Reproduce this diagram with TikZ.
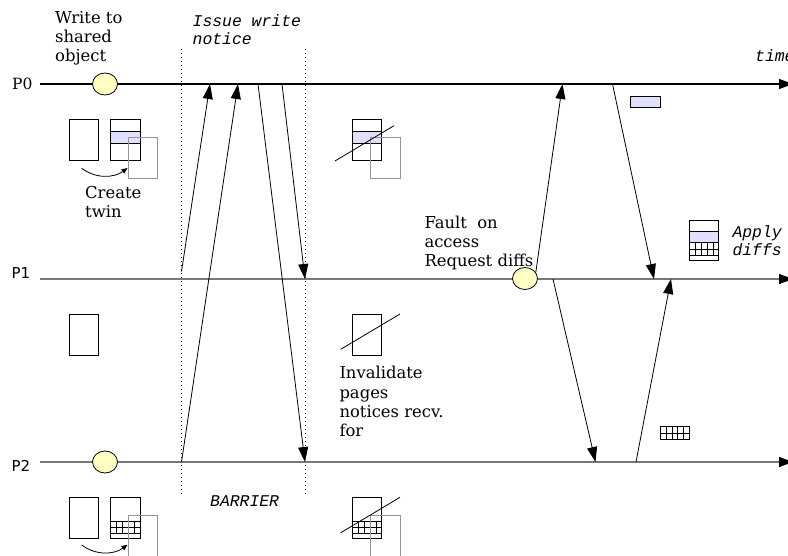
\documentclass[tikz,border=0pt]{standalone}
\usepackage{fontspec}
\setmainfont{DejaVu Serif}
\setsansfont{DejaVu Sans}
\setmonofont{Liberation Mono}
\usetikzlibrary{arrows.meta,shapes.geometric}
\definecolor{evtfill}{RGB}{255,255,194}
\definecolor{diffband}{RGB}{224,224,252}
\definecolor{twingray}{RGB}{150,150,150}
\definecolor{linegray}{RGB}{120,120,120}
\begin{document}
\begin{tikzpicture}[x=1pt,y=-1pt,
  axis/.style={line width=1.1pt,-{Triangle[length=14pt,width=10pt,color=black]}},
  msg/.style={line width=0.8pt,-{Triangle[length=15pt,width=10pt]}},
  barrier/.style={line width=0.8pt,dash pattern=on 1pt off 3pt},
  pg/.style={draw,line width=0.8pt},
  twin/.style={draw=twingray,line width=0.8pt},
  band/.style={draw,fill=diffband,line width=0.8pt},
  evt/.style={ellipse,draw,fill=evtfill,line width=0.8pt,minimum width=25pt,minimum height=22pt,inner sep=0pt},
  lbl/.style={font=\fontsize{16.4}{19.3}\selectfont,align=left,anchor=base west,inner sep=0pt},
  note/.style={font=\fontsize{16.4}{17.7}\selectfont\ttfamily\itshape,align=left,anchor=base west,inner sep=0pt},
  proclbl/.style={anchor=base west,inner sep=0pt},
  copyarrow/.style={line width=0.8pt,-{Triangle[length=6pt,width=5pt]}},
  pagebox/.pic={\draw[pg] (0,0) rectangle (29.5,41.4);},
  diffgrid/.pic={
    \draw[pg] (0,0) rectangle (29.5,12.2);
    \draw[line width=0.6pt] (0,6.1) -- (29.5,6.1);
    \foreach \gx in {5.9,11.8,17.7,23.6} \draw[line width=0.6pt] (\gx,0) -- (\gx,12.2);
  }
]
\useasboundingbox (0,0) rectangle (788,555);
\clip (0,0) rectangle (788,555);

% barrier boundaries
\draw[barrier] (181.5,49) -- (181.5,497);
\draw[barrier] (305,49) -- (305,497);

% process time lines
\coordinate (P0a) at (40,84);   \coordinate (P0b) at (793,84);
\coordinate (P1a) at (40,279);  \coordinate (P1b) at (793,279);
\coordinate (P2a) at (40,462);  \coordinate (P2b) at (793,462);
\draw[axis,draw=black] (P0a) -- (P0b);
\draw[axis,draw=linegray] (P1a) -- (P1b);
\draw[axis,draw=linegray] (P2a) -- (P2b);

\node[proclbl,font=\fontsize{15.5}{18}\selectfont] (l0) at (12,89) {P0};
\node[proclbl,font=\fontsize{15}{18}\selectfont\sffamily] (l1) at (11.5,278.3) {P1};
\node[proclbl,font=\fontsize{15}{18}\selectfont\sffamily] (l2) at (11.5,471.7) {P2};

% message end points
\coordinate (m1s) at (181.5,271.5); \coordinate (m1e) at (210,84);
\coordinate (m2s) at (181.5,462);   \coordinate (m2e) at (238,84);
\coordinate (m3s) at (258,84);      \coordinate (m3e) at (305,462);
\coordinate (m4s) at (282,84);      \coordinate (m4e) at (305,279);
\coordinate (m6s) at (612.5,84);    \coordinate (m6e) at (654,279);
\coordinate (m7s) at (553,279);     \coordinate (m7e) at (595.5,462);
\coordinate (m8s) at (636,462);     \coordinate (m8e) at (671,279);
\coordinate (m5e) at (562.5,84);

\draw[msg] (m1s) -- (m1e);
\draw[msg] (m2s) -- (m2e);
\draw[msg] (m3s) -- (m3e);
\draw[msg] (m4s) -- (m4e);
\draw[msg] (m6s) -- (m6e);
\draw[msg] (m7s) -- (m7e);
\draw[msg] (m8s) -- (m8e);

% shared-object events
\node[evt] (e0) at (105,84) {};
\node[evt] (e1) at (525,278.5) {};
\node[evt] (e2) at (105,462) {};
\draw[msg] (e1.30) -- (m5e);

% P0: page and its twin
\pic at (69,119.3) {pagebox};
\pic at (110.7,119.3) {pagebox};
\draw[band] (110.7,131.7) rectangle (140.2,143.3);
\draw[twin] (128.3,137.3) rectangle (157.7,178.3);
\coordinate (c0s) at (81.7,168.3); \coordinate (c0e) at (127.5,168);
\draw[copyarrow] (c0s) .. controls (96,179) and (114,178) .. (c0e);

% P0: invalidated copy
\pic at (352.3,119.3) {pagebox};
\draw[band] (352.3,131.2) rectangle (381.8,143.3);
\draw[twin] (370,137.3) rectangle (400,178.7);
\draw[line width=0.8pt] (335,161) -- (394,125.7);

% P0: diff
\draw[band] (630.7,96) rectangle (660.3,107.7);

% P1 pages
\pic at (69,314) {pagebox};
\pic at (352.3,314) {pagebox};
\draw[line width=0.8pt] (340.7,349.3) -- (400,314);

% P1: page with diffs applied
\draw[pg] (689.3,220) rectangle (718.8,260.7);
\draw[band] (689.3,231.7) rectangle (718.8,242.7);
\pic at (689.3,242.7) {diffgrid};

% P2: page and its twin
\pic at (69,497.3) {pagebox};
\pic at (110.7,497.3) {pagebox};
\pic at (110.7,521) {diffgrid};
\draw[twin] (128.3,515) rectangle (157.7,560);
\coordinate (c2s) at (81.7,545); \coordinate (c2e) at (127.5,544.7);
\draw[copyarrow] (c2s) .. controls (96,555.7) and (114,554.7) .. (c2e);

% P2: invalidated copy
\pic at (352.3,497.3) {pagebox};
\pic at (352.3,521) {diffgrid};
\draw[twin] (370.7,515) rectangle (400,560);
\draw[line width=0.8pt] (340.7,532.7) -- (400,497.3);

% P2: diff
\pic at (660,426.7) {diffgrid};

% labels (anchored at the baseline of their last line)
\node[lbl] (t1) at (55,61.7) {Write to\\shared\\object};
\node[note] (t2) at (192.5,44.3) {Issue write\\notice};
\node[lbl] (t3) at (85,217.3) {Create\\twin};
\node[lbl,font=\fontsize{16.4}{18.8}\selectfont] (t4) at (424.3,266) {Fault\ \ on\\access\\Request diffs};
\node[lbl] (t5) at (339.3,436.7) {Invalidate\\pages\\notices recv.\\for};
\node[note] (t6) at (210,506) {BARRIER};
\node[note] (t7) at (732.3,255) {Apply\\diffs};
\node[note] (t8) at (755,61.7) {time};
\end{tikzpicture}
\end{document}
